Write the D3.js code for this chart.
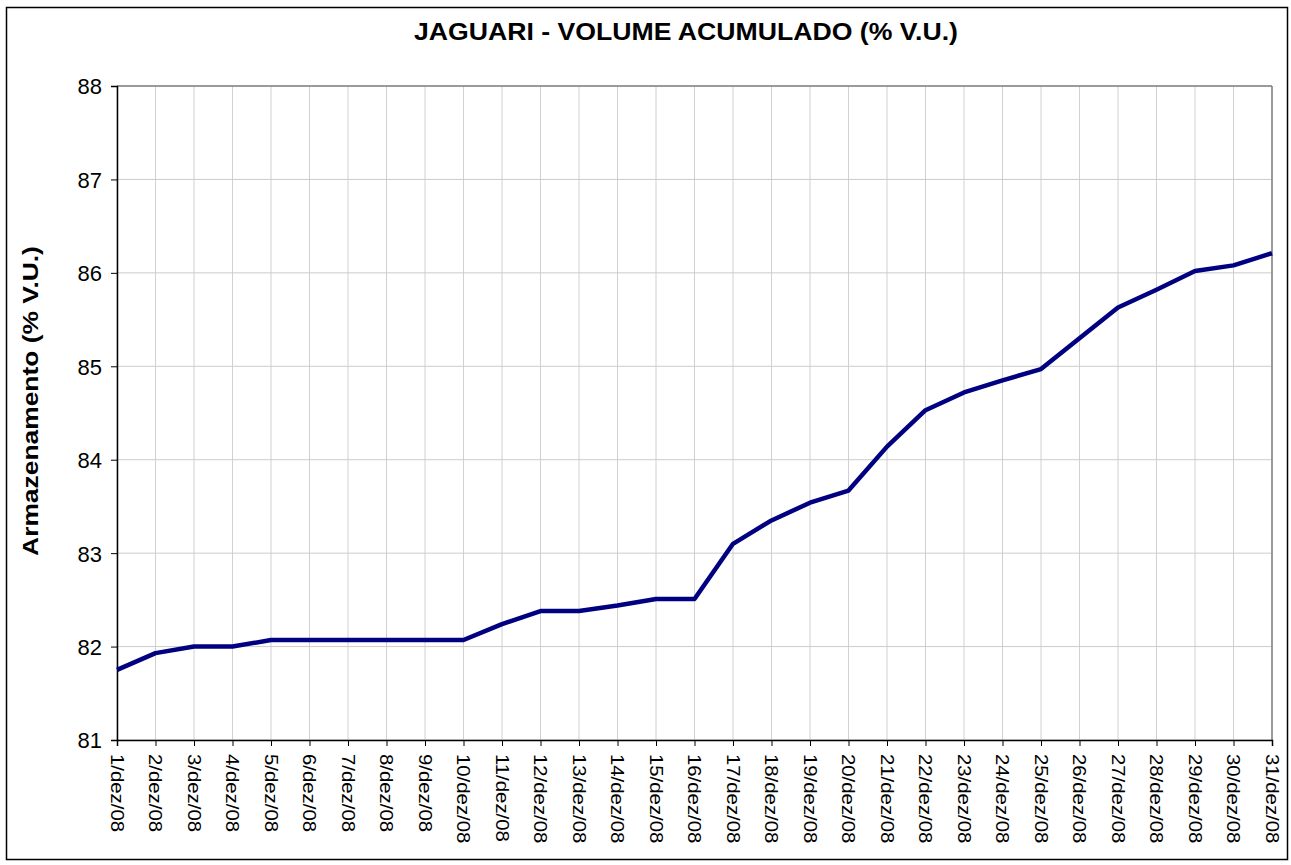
<!DOCTYPE html>
<html>
<head>
<meta charset="utf-8">
<script src="https://cdn.jsdelivr.net/npm/d3@7"></script>
<style>
  body { margin: 0; background: #fff; }
  text { font-family: "Liberation Sans", Arial, sans-serif; fill: #000; }
</style>
</head>
<body>
<script>
const w = 1291
const h = 865
const margin = {top: 86, right: 19, bottom: 125, left: 117}

// Data: daily stored volume, Jaguari reservoir, Dec 2008 (% of useful volume)
const days = d3.range(1, 32).map(d => `${d}/dez/08`)
const volume = [81.75, 81.93, 82.00, 82.00, 82.07, 82.07, 82.07, 82.07, 82.07, 82.07,
                82.24, 82.38, 82.38, 82.44, 82.51, 82.51, 83.10, 83.35, 83.54, 83.67,
                84.14, 84.53, 84.72, 84.85, 84.97, 85.30, 85.63, 85.82, 86.02, 86.08, 86.21]
const yTicks = [81, 82, 83, 84, 85, 86, 87, 88]

const title = "JAGUARI - VOLUME ACUMULADO (% V.U.)"
const yTitle = "Armazenamento (% V.U.)"

const svg = d3.select("body")
              .append("svg")
              .attr("width", w)
              .attr("height", h)

// outer chart frame
svg.append("rect")
   .attr("x", 6.5).attr("y", 7.5)
   .attr("width", 1281).attr("height", 852)
   .attr("fill", "white")
   .attr("stroke", "black")
   .attr("stroke-width", 1.5)

const x = d3.scalePoint()
            .domain(days)
            .range([margin.left, w - margin.right])

const y = d3.scaleLinear()
            .domain([81, 88])
            .range([h - margin.bottom, margin.top])

// grid
svg.append("g")
   .selectAll("line")
   .data(days)
   .enter()
   .append("line")
     .attr("x1", d => x(d)).attr("x2", d => x(d))
     .attr("y1", y(88)).attr("y2", y(81))
     .attr("stroke", "#d0d0d0")
     .attr("stroke-width", 1)

svg.append("g")
   .selectAll("line")
   .data(yTicks)
   .enter()
   .append("line")
     .attr("x1", x.range()[0]).attr("x2", x.range()[1])
     .attr("y1", d => y(d)).attr("y2", d => y(d))
     .attr("stroke", "#cccccc")
     .attr("stroke-width", 1)

// plot right / top edges in gray
svg.append("line")
   .attr("x1", x.range()[1]).attr("x2", x.range()[1])
   .attr("y1", y(88)).attr("y2", y(81))
   .attr("stroke", "#808080").attr("stroke-width", 1.5)
svg.append("line")
   .attr("x1", x.range()[0]).attr("x2", x.range()[1])
   .attr("y1", y(88)).attr("y2", y(88))
   .attr("stroke", "#808080").attr("stroke-width", 1.5)

// axes
const yAxis = d3.axisLeft(y)
                .tickValues(yTicks)
                .tickSize(6)
                .tickPadding(9)
                .tickFormat(d3.format("d"))

const xAxis = d3.axisBottom(x)
                .tickSize(6)
                .tickPadding(0)

const gy = svg.append("g")
              .attr("transform", `translate(${margin.left},0)`)
              .call(yAxis)
gy.select(".domain").attr("stroke", "black").attr("stroke-width", 1.5)
gy.selectAll(".tick line").attr("stroke", "black")
gy.selectAll(".tick text")
  .style("font-size", "22px")
  .attr("dy", "0.36em")

const gx = svg.append("g")
              .attr("transform", `translate(0,${h - margin.bottom})`)
              .call(xAxis)
gx.select(".domain").attr("stroke", "black").attr("stroke-width", 1.5)
gx.selectAll(".tick line").attr("stroke", "black")
gx.selectAll(".tick text")
  .style("font-size", "18.5px")
  .attr("text-anchor", "start")
  .attr("dy", null)
  .attr("y", 0)
  .attr("transform", "translate(-7,14) rotate(90) scale(1.1,1)")

// line
const line = d3.line()
               .x((d, i) => x(days[i]))
               .y(d => y(d))

svg.append("path")
   .datum(volume)
   .attr("d", line)
   .attr("fill", "none")
   .attr("stroke", "#000080")
   .attr("stroke-width", 4.5)
   .attr("stroke-linejoin", "round")

// titles
svg.append("text")
   .attr("transform", "translate(686,40) scale(1.11,1)")
   .attr("text-anchor", "middle")
   .style("font-size", "24px")
   .style("font-weight", "bold")
   .text(title)

svg.append("text")
   .attr("transform", "translate(38,401) rotate(-90) scale(1.2,1)")
   .attr("text-anchor", "middle")
   .style("font-size", "22px")
   .style("font-weight", "bold")
   .text(yTitle)
</script>
</body>
</html>
